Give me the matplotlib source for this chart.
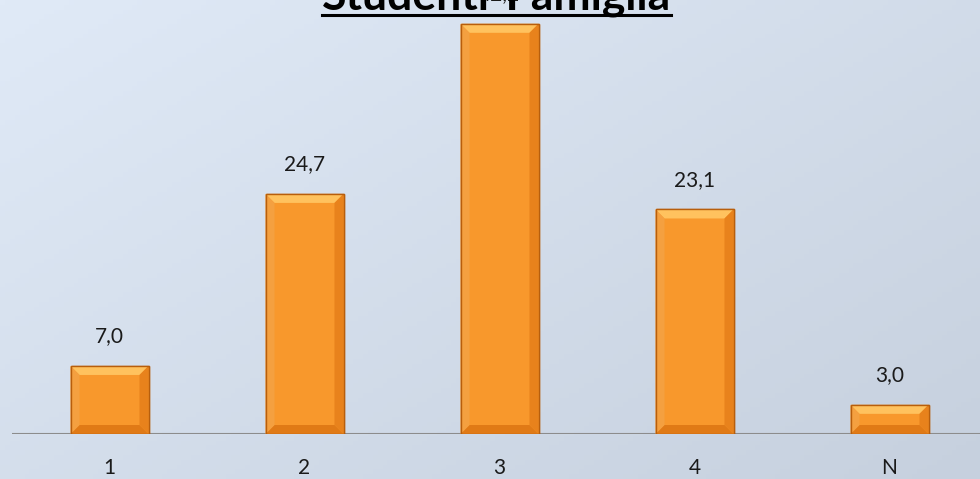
import matplotlib
matplotlib.use("Agg")
import matplotlib.pyplot as plt
import numpy as np

categories = ["1", "2", "3", "4", "N"]
values = [7.0, 24.7, 42.2, 23.1, 3.0]
labels = ["7,0", "24,7", "42,2", "23,1", "3,0"]
title = "Studenti-Famiglia"

plt.rcParams['font.family'] = ['Lato', 'DejaVu Sans']

fig = plt.figure(figsize=(9.8, 4.79), dpi=100)

# background gradient
bg = fig.add_axes([0, 0, 1, 1])
gx, gy = np.meshgrid(np.linspace(0, 1, 200), np.linspace(0, 1, 100))
g = 0.55 * gx + 0.45 * gy
c0 = np.array([0xe0, 0xea, 0xf7]) / 255
c1 = np.array([0xc6, 0xd0, 0xde]) / 255
img = c0[None, None, :] * (1 - g[..., None]) + c1[None, None, :] * g[..., None]
bg.imshow(img, aspect='auto', extent=[0, 1, 0, 1], origin='upper')
bg.axis('off')

ax = fig.add_axes([12 / 980, 45 / 479, 975 / 980, 434 / 479])
ax.set_facecolor('none')
x = np.arange(len(categories))
w = 0.4
ax.set_xlim(-0.5, 4.5)
ax.set_ylim(0, 44.65)

bars = ax.bar(x, values, width=w, color='#F8982C', edgecolor='#B85E0C', linewidth=1.0, zorder=3)

# bevel shading
dx = 9 / 195
dy = 9 / 9.72
for b in bars:
    x0, y0 = b.get_x(), b.get_y()
    x1, y1 = x0 + b.get_width(), y0 + b.get_height()
    top = plt.Polygon([[x0, y1], [x1, y1], [x1 - dx, y1 - dy], [x0 + dx, y1 - dy]],
                      color='#FFC25E', zorder=4, lw=0)
    bot = plt.Polygon([[x0, y0], [x1, y0], [x1 - dx, y0 + dy], [x0 + dx, y0 + dy]],
                      color='#E07A16', zorder=4, lw=0)
    lft = plt.Polygon([[x0, y0], [x0, y1], [x0 + dx, y1 - dy], [x0 + dx, y0 + dy]],
                      color='#F4A040', zorder=4, lw=0)
    rgt = plt.Polygon([[x1, y0], [x1, y1], [x1 - dx, y1 - dy], [x1 - dx, y0 + dy]],
                      color='#E8821C', zorder=4, lw=0)
    for p in (top, bot, lft, rgt):
        ax.add_patch(p)
    ax.add_patch(plt.Rectangle((x0, y0), x1 - x0, y1 - y0, fill=False,
                               edgecolor='#B85E0C', lw=1.0, zorder=5))

for xi, v, lab in zip(x, values, labels):
    ax.annotate(lab, (xi, v), xytext=(0, 14), textcoords='offset points',
                ha='center', va='bottom', fontsize=15, color='#1a1a1a', zorder=6)

ax.axhline(0, color='#8c8c8c', lw=1.5, zorder=2)
for s in ax.spines.values():
    s.set_visible(False)
ax.set_yticks([])
ax.set_xticks(x)
ax.set_xticklabels(categories, fontsize=15, color='#1a1a1a')
ax.tick_params(axis='x', length=0, pad=17)

# title, partly cut off at the top like the reference
t = fig.text(0.507 * 9.8, (479 - 10) / 100, title, ha='center', va='baseline',
             fontsize=32, fontweight='bold', color='black',
             transform=fig.dpi_scale_trans)
fig.canvas.draw()
bb = t.get_window_extent()
fig.add_artist(plt.Line2D([bb.x0, bb.x1], [479 - 15, 479 - 15], color='black', lw=2.2,
                          transform=None))

fig.savefig("out.png", dpi=100)
